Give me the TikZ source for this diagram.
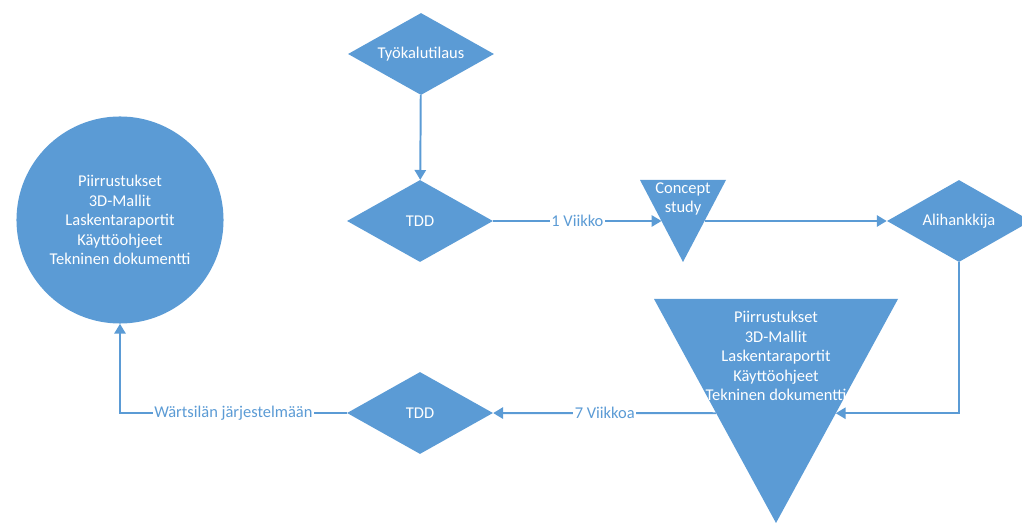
\documentclass[tikz,border=0pt]{standalone}
\usepackage{fontspec}
\setmainfont{Carlito}
\usetikzlibrary{arrows.meta, shapes.geometric, calc}
\definecolor{officeblue}{RGB}{91,155,213}
\tikzset{
  txt/.style={text=white, inner sep=0pt, align=center,
    font=\fontsize{11.7}{13.9}\selectfont},
  box/.style={txt, fill=officeblue},
  dia/.style={box, diamond, aspect=1.78, minimum width=3.65cm, minimum height=2.05cm},
  link/.style={draw=officeblue, line width=1.4pt,
    -{Triangle[length=7pt, width=8pt]}},
  lbl/.style={fill=white, text=officeblue, inner sep=1pt,
    font=\fontsize{11.7}{13.9}\selectfont}
}
\begin{document}
\begin{tikzpicture}[x=0.025cm, y=-0.025cm]
  \useasboundingbox (0, 0) rectangle (1022, 524);

  %% top row
  \node[dia] (tool) at (421, 54) {Työkalutilaus};
  \node[dia] (tdd1) at (420, 221) {TDD};
  \node[dia, minimum width=3.6cm] (alih) at (959, 221) {Alihankkija};

  %% Concept study
  \coordinate (csnw) at (640, 180);
  \coordinate (csne) at (726, 180);
  \coordinate (csapex) at (683, 262);
  \fill[officeblue] (csnw) -- (csne) -- (csapex) -- cycle;
  \node[txt] (cstext) at (683, 199) {Concept\\study};
  \coordinate (csin) at ($(csnw)!0.5!(csapex)$);
  \coordinate (csout) at ($(csne)!0.5!(csapex)$);

  %% result triangle
  \coordinate (bignw) at (654, 299);
  \coordinate (bigne) at (898, 299);
  \coordinate (bigapex) at (776, 523);
  \fill[officeblue] (bignw) -- (bigne) -- (bigapex) -- cycle;
  \node[txt] (bigtext) at (776, 356)
    {Piirrustukset\\3D-Mallit\\Laskentaraportit\\Käyttöohjeet\\Tekninen dokumentti};
  \coordinate (bigin) at ($(bigne)!0.51!(bigapex)$);
  \coordinate (bigout) at ($(bignw)!0.51!(bigapex)$);

  %% bottom row
  \node[dia] (tdd2) at (420, 413) {TDD};
  \node[box, circle, minimum size=5.175cm] (circ) at (120, 220)
    {Piirrustukset\\3D-Mallit\\Laskentaraportit\\Käyttöohjeet\\Tekninen dokumentti};

  %% connectors
  \draw[link] (tool) -- (tdd1);
  \draw[link] (tdd1) -- node[lbl]{1 Viikko} (csin);
  \draw[link] (csout) -- (alih);
  \draw[link] (alih) |- (bigin);
  \draw[link] (bigout) -- node[lbl]{7 Viikkoa} (tdd2);
  \draw[link] (tdd2) -| node[lbl, pos=0.25]{Wärtsilän järjestelmään} (circ);
\end{tikzpicture}
\end{document}
